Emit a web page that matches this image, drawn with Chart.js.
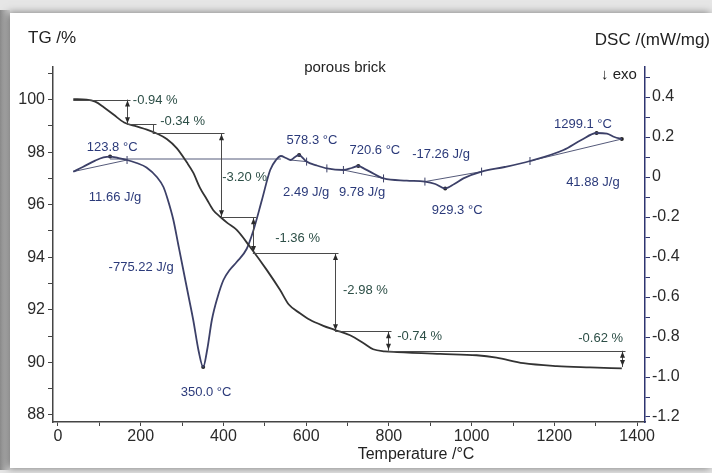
<!DOCTYPE html>
<html>
<head>
<meta charset="utf-8">
<script src="https://cdn.jsdelivr.net/npm/chart.js@4.4.1/dist/chart.umd.min.js"></script>
<style>
  html, body { margin: 0; padding: 0; background: #e6e6e6; }
  canvas { display: block; }
</style>
</head>
<body>
<canvas id="chart" width="712" height="473"></canvas>
<script>
// TG curve, mass in %
const tgTemp = [37, 69, 90, 110, 135, 160, 190, 215, 240, 263, 287, 311, 327, 343, 360, 375, 392, 410, 432, 464, 505, 537, 558, 585, 609, 640, 670, 706, 738, 762, 790, 820, 924, 1012, 1060, 1125, 1206, 1286, 1363];
const tgMass = [100.02, 100.0, 99.92, 99.72, 99.42, 99.13, 98.98, 98.86, 98.7, 98.5, 98.15, 97.62, 97.22, 96.65, 96.2, 95.8, 95.54, 95.3, 95.04, 94.4, 93.51, 92.75, 92.2, 91.87, 91.62, 91.4, 91.23, 91.03, 90.74, 90.5, 90.42, 90.39, 90.32, 90.27, 90.18, 89.97, 89.86, 89.81, 89.77];

// DSC curve, mW/mg
const dscTemp = [37, 60, 90, 110, 126, 145, 167, 190, 214, 239, 255, 265, 279, 291, 303, 315, 327, 340, 351, 361, 372, 386, 400, 415, 432, 456, 472, 493, 513, 527, 539, 551, 562, 573, 583, 592, 601, 625, 650, 690, 710, 726, 740, 754, 787, 843, 887, 912, 936, 958, 980, 1024, 1080, 1141, 1222, 1265, 1302, 1327, 1345, 1363];
const dscSignal = [0.027, 0.05, 0.082, 0.098, 0.102, 0.095, 0.085, 0.07, 0.048, 0.0, -0.05, -0.11, -0.215, -0.34, -0.465, -0.59, -0.715, -0.87, -0.95, -0.86, -0.715, -0.6, -0.515, -0.465, -0.425, -0.36, -0.27, -0.115, 0.035, 0.085, 0.105, 0.095, 0.085, 0.1, 0.11, 0.095, 0.077, 0.058, 0.043, 0.035, 0.045, 0.055, 0.042, 0.027, -0.007, -0.018, -0.023, -0.035, -0.057, -0.035, -0.007, 0.027, 0.05, 0.08, 0.135, 0.185, 0.22, 0.217, 0.2, 0.19];

// DSC peak integration baselines [start T, start value, end T, end value]
const baseStartTemp = [37, 126, 562, 690, 887, 1141];
const baseStartVal = [0.027, 0.09, 0.085, 0.035, -0.023, 0.08];
const baseEndTemp = [167, 539, 601, 787, 1024, 1363];
const baseEndVal = [0.085, 0.09, 0.077, -0.007, 0.027, 0.19];

// integration limits and peak marks on DSC curve
const limitTemp = [167, 601, 650, 690, 787, 887, 1024, 1141];
const limitVal = [0.085, 0.077, 0.043, 0.035, -0.007, -0.023, 0.027, 0.08];
const peakTemp = [126, 351, 583, 726, 936, 1302, 1363];
const peakVal = [0.102, -0.95, 0.11, 0.055, -0.057, 0.22, 0.19];

// TG mass steps
const stepStartTemp = [37, 167, 229, 394, 471, 670, 798];
const stepTemp = [167, 229, 394, 471, 670, 798, 1363];
const stepFrom = [100, 99.06, 98.72, 95.52, 94.16, 91.18, 90.44];
const stepTo = [99.06, 98.72, 95.52, 94.16, 91.18, 90.44, 89.82];

const tgLabels = ['-0.94 %', '-0.34 %', '-3.20 %', '-1.36 %', '-2.98 %', '-0.74 %', '-0.62 %'];
const tgLabelTemp = [181, 247, 397, 525, 689, 820, 1366];
const tgLabelMass = [99.98, 99.16, 97.05, 94.73, 92.75, 90.97, 90.9];

const dscLabels = ['123.8 °C', '11.66 J/g', '-775.22 J/g', '350.0 °C', '578.3 °C', '2.49 J/g', '9.78 J/g', '720.6 °C', '-17.26 J/g', '929.3 °C', '1299.1 °C', '41.88 J/g'];
const dscLabelTemp = [131, 138, 201, 358, 614, 600, 735, 766, 926, 965, 1269, 1293];
const dscLabelVal = [0.15, -0.1, -0.45, -1.075, 0.185, -0.075, -0.075, 0.135, 0.115, -0.165, 0.265, -0.025];

const xTicks = [0, 100, 200, 300, 400, 500, 600, 700, 800, 900, 1000, 1100, 1200, 1300, 1400];
const tgTicks = [88, 89, 90, 91, 92, 93, 94, 95, 96, 97, 98, 99, 100, 101];
const dscTicks = [-1.2, -1.1, -1.0, -0.9, -0.8, -0.7, -0.6, -0.5, -0.4, -0.3, -0.2, -0.1, 0, 0.1, 0.2, 0.3, 0.4, 0.5];

const pts = (xs, ys) => xs.map((t, i) => ({ x: t, y: ys[i] }));

Chart.defaults.font.family = "'Liberation Sans', Arial, sans-serif";

const baseSets = baseStartTemp.map((t, i) => ({
    data: [{ x: t, y: baseStartVal[i] }, { x: baseEndTemp[i], y: baseEndVal[i] }],
    yAxisID: 'y2', showLine: true, borderColor: '#555a7a', borderWidth: 1, pointRadius: 0
}));

const frame = {
    id: 'frame',
    beforeDraw(chart) {
        const c = chart.ctx;
        c.save();
        c.fillStyle = '#e6e6e6';
        c.fillRect(0, 0, chart.width, chart.height);
        const g = c.createLinearGradient(0, 0, 10, 0);
        g.addColorStop(0, '#8a8a8a');
        g.addColorStop(1, '#d8d8d8');
        c.fillStyle = g;
        c.fillRect(0, 10, 10, 460);
        c.shadowColor = 'rgba(0,0,0,0.5)';
        c.shadowBlur = 8;
        c.shadowOffsetX = -2;
        c.fillStyle = '#fff';
        c.fillRect(10, 13, chart.width - 10, 455);
        c.restore();
    }
};

function arrowHead(c, x, y, dir) {
    c.beginPath();
    c.moveTo(x, y);
    c.lineTo(x - 2.5, y + dir * 6);
    c.lineTo(x + 2.5, y + dir * 6);
    c.closePath();
    c.fill();
}

const notes = {
    id: 'notes',
    afterDatasetsDraw(chart) {
        const { ctx: c, scales: { x, y, y2 }, chartArea: area } = chart;
        c.save();
        c.strokeStyle = '#4a4a4a';
        c.fillStyle = '#2a2a2a';
        c.lineWidth = 1;
        stepTemp.forEach((t, i) => {
            const px = Math.round(x.getPixelForValue(t)) + 0.5;
            const y0 = y.getPixelForValue(stepFrom[i]);
            const y1 = y.getPixelForValue(stepTo[i]);
            c.beginPath();
            c.moveTo(x.getPixelForValue(stepStartTemp[i]), Math.round(y0) + 0.5);
            c.lineTo(px + 3, Math.round(y0) + 0.5);
            c.moveTo(px, y0);
            c.lineTo(px, y1);
            c.stroke();
            if (y1 - y0 > 12) {
                arrowHead(c, px, y0 + 1, 1);
                arrowHead(c, px, y1 - 1, -1);
            }
        });

        c.font = "13px 'Liberation Sans', Arial, sans-serif";
        c.textBaseline = 'middle';
        c.fillStyle = '#2d4f47';
        tgLabels.forEach((s, i) => {
            c.textAlign = i === tgLabels.length - 1 ? 'right' : 'left';
            c.fillText(s, x.getPixelForValue(tgLabelTemp[i]), y.getPixelForValue(tgLabelMass[i]));
        });
        c.fillStyle = '#2b3a7a';
        c.textAlign = 'center';
        dscLabels.forEach((s, i) => {
            c.fillText(s, x.getPixelForValue(dscLabelTemp[i]), y2.getPixelForValue(dscLabelVal[i]));
        });

        c.fillStyle = '#222';
        c.font = "17px 'Liberation Sans', Arial, sans-serif";
        c.textAlign = 'left';
        c.fillText('TG /%', 28, 38);
        c.textAlign = 'right';
        c.fillText('DSC /(mW/mg)', 710, 40);
        c.font = "15px 'Liberation Sans', Arial, sans-serif";
        c.textAlign = 'center';
        c.fillText('porous brick', 345, area.top + 1);
        c.fillText('↓ exo', area.right - 26, area.top + 8);
        c.font = "16px 'Liberation Sans', Arial, sans-serif";
        c.fillText('Temperature /°C', 416, 455);
        c.restore();
    }
};

new Chart(document.getElementById('chart'), {
    type: 'scatter',
    data: {
        datasets: [
            {
                label: 'TG',
                data: pts(tgTemp, tgMass),
                yAxisID: 'y',
                showLine: true,
                borderColor: '#333333',
                borderWidth: 1.8,
                pointRadius: 0,
                cubicInterpolationMode: 'monotone'
            },
            {
                label: 'DSC',
                data: pts(dscTemp, dscSignal),
                yAxisID: 'y2',
                showLine: true,
                borderColor: '#3c4068',
                borderWidth: 1.8,
                pointRadius: 0,
                cubicInterpolationMode: 'monotone'
            },
            ...baseSets,
            {
                data: pts(limitTemp, limitVal),
                yAxisID: 'y2',
                pointStyle: 'line',
                rotation: 90,
                pointRadius: 4,
                borderColor: '#3c4068',
                borderWidth: 1
            },
            {
                data: pts(peakTemp, peakVal),
                yAxisID: 'y2',
                pointRadius: 2,
                backgroundColor: '#222',
                borderWidth: 0
            }
        ]
    },
    options: {
        responsive: false,
        animation: false,
        devicePixelRatio: 1,
        layout: { padding: { top: 67, left: 0, right: 0, bottom: 0 } },
        plugins: { legend: { display: false }, tooltip: { enabled: false } },
        scales: {
            x: {
                type: 'linear',
                min: -12,
                max: 1419,
                afterBuildTicks: s => { s.ticks = xTicks.map(v => ({ value: v })); },
                afterFit: s => { s.height = 51; },
                ticks: {
                    autoSkip: false,
                    maxRotation: 0,
                    padding: 1,
                    color: '#2a2a2a',
                    font: { size: 16 },
                    callback: v => (v % 200 === 0 ? v : '')
                },
                grid: { drawOnChartArea: false, tickLength: 4, color: '#444' },
                border: { color: '#444', width: 1.5 }
            },
            y: {
                position: 'left',
                min: 87.73,
                max: 101.24,
                afterBuildTicks: s => { s.ticks = tgTicks.map(v => ({ value: v })); },
                afterFit: s => { s.width = 53; },
                ticks: {
                    autoSkip: false,
                    padding: 3,
                    color: '#2a2a2a',
                    font: { size: 16 },
                    callback: v => (v % 2 === 0 ? v : '')
                },
                grid: { drawOnChartArea: false, tickLength: 5, color: '#444' },
                border: { color: '#444', width: 1.5 }
            },
            y2: {
                position: 'right',
                min: -1.225,
                max: 0.55,
                afterBuildTicks: s => { s.ticks = dscTicks.map(v => ({ value: v })); },
                afterFit: s => { s.width = 67; },
                ticks: {
                    autoSkip: false,
                    padding: 2,
                    color: '#2a2a2a',
                    font: { size: 16 },
                    callback: v => {
                        const k = Math.round(v * 10);
                        if (k % 2 !== 0) return '';
                        return k === 0 ? '0' : (k / 10).toFixed(1);
                    }
                },
                grid: { drawOnChartArea: false, tickLength: 5, color: '#2e3470' },
                border: { color: '#2e3470', width: 1.5 }
            }
        }
    },
    plugins: [frame, notes]
});
</script>
</body>
</html>
